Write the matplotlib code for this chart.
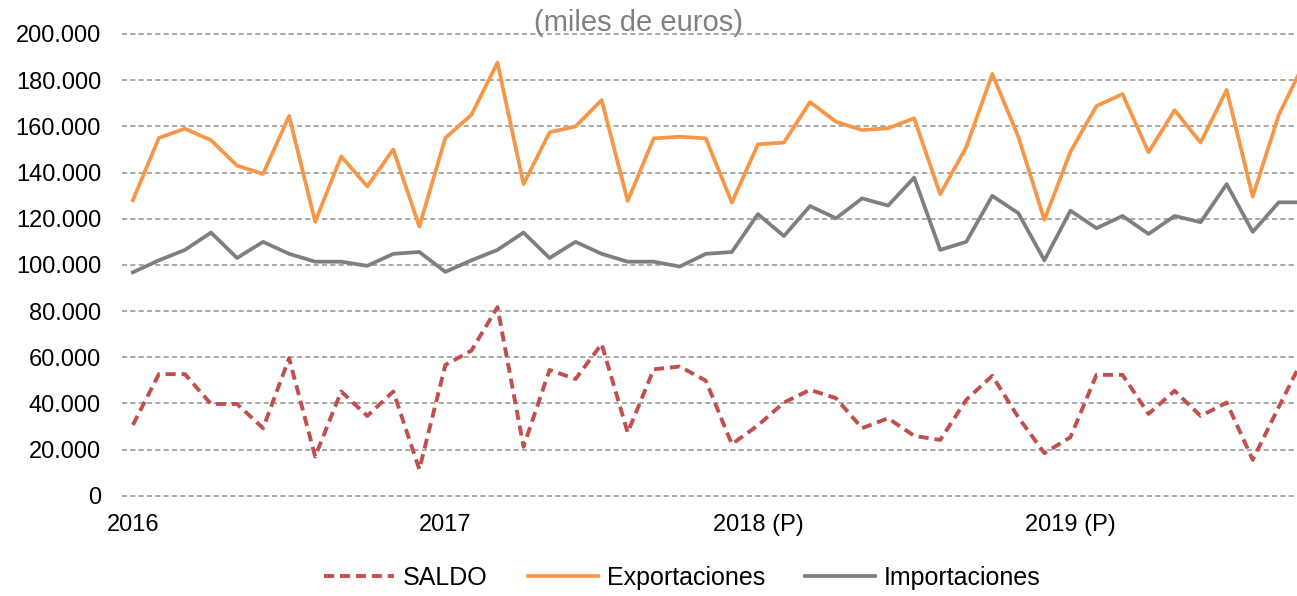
import matplotlib
matplotlib.use("Agg")
import matplotlib.pyplot as plt

plt.rcParams["font.family"] = ["Liberation Sans", "DejaVu Sans"]

# ============================
# Data (miles de euros), monthly from Jan 2016
# ============================
exportaciones = [128, 155, 159, 154, 143, 139.4, 164.5, 118.7, 147, 134, 150, 116.6,
                 155, 165, 187.6, 135, 157.4, 160, 171.4, 127.7, 154.8, 155.5, 154.8, 127,
                 152.2, 153, 170.5, 162, 158.4, 159.2, 163.5, 130.6, 151, 182.7, 155.5, 119.5,
                 149, 168.8, 174, 148.8, 167, 153, 175.8, 129.6, 164.9, 188]
importaciones = [96.8, 102, 106.5, 114, 103, 110, 104.8, 101.4, 101.4, 99.6, 104.8, 105.6,
                 97, 102, 106.5, 114, 103, 110, 104.8, 101.4, 101.4, 99.3, 104.8, 105.6,
                 122, 112.5, 125.5, 120.2, 128.8, 125.7, 137.8, 106.5, 110, 129.9, 122.4, 102,
                 123.5, 115.9, 121.2, 113.4, 121.2, 118.5, 135, 114.3, 127.1, 127.1]
saldo = [30.7, 52.7, 52.7, 39.8, 39.8, 29.3, 59.6, 17, 45.2, 34.6, 45.2, 11.5,
         56.7, 62.9, 81.7, 21.3, 54.5, 50.6, 65.8, 27.4, 54.8, 56, 49.9, 22.4,
         30.5, 40.4, 45.9, 42.3, 29.3, 33.6, 26, 24.2, 41.6, 52, 34, 18.5,
         25.4, 52.4, 52.4, 35.5, 45.5, 34.6, 40.4, 15.6, 38.5, 61]

year_ticks = [0, 12, 24, 36]
year_labels = ["2016", "2017", "2018 (P)", "2019 (P)"]
y_ticks = list(range(0, 200001, 20000))
y_labels = ["0", "20.000", "40.000", "60.000", "80.000", "100.000",
            "120.000", "140.000", "160.000", "180.000", "200.000"]

# ============================
# Plot
# ============================
fig = plt.figure(figsize=(12.97, 5.96), dpi=100)
ax = fig.add_axes([0.094, 0.168, 0.906, 0.775])

x = list(range(len(exportaciones)))
ax.plot(x, [v * 1000 for v in saldo], color="#C0504D", lw=2.8,
        linestyle=(0, (2.6, 1.5)), label="SALDO", zorder=3)
ax.plot(x, [v * 1000 for v in exportaciones], color="#F79646", lw=2.7,
        label="Exportaciones", zorder=3)
ax.plot(x, [v * 1000 for v in importaciones], color="#7F7F7F", lw=2.7,
        label="Importaciones", zorder=3)

ax.set_xlim(-0.42, 44.7)
ax.set_ylim(0, 200000)
ax.set_yticks(y_ticks)
ax.set_yticklabels(y_labels)
ax.set_xticks(year_ticks)
ax.set_xticklabels(year_labels)
ax.tick_params(axis="both", length=0, labelsize=17, colors="#000000")
ax.tick_params(axis="y", pad=15)
ax.tick_params(axis="x", pad=13)

ax.grid(axis="y", color="#999999", linestyle=(0, (3, 2)), lw=1.2, clip_on=False)
ax.set_axisbelow(True)
for s in ax.spines.values():
    s.set_visible(False)

fig.text(0.492, 0.962, "(miles de euros)", ha="center", va="center",
         fontsize=21, color="#808080")

ax.legend(loc="center", bbox_to_anchor=(0.477, -0.177), ncol=3, frameon=False,
          fontsize=18, handlelength=2.8, columnspacing=1.6, handletextpad=0.36,
          borderaxespad=0, borderpad=0)

fig.savefig("out.png", dpi=100)
